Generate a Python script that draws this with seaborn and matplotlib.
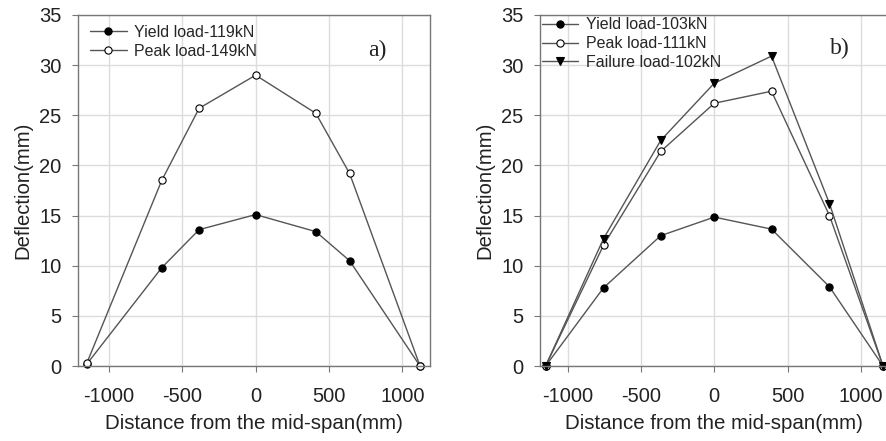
import matplotlib
matplotlib.use("Agg")
import matplotlib.pyplot as plt
import seaborn as sns
import pandas as pd

# Panel a)
xa = [-1150, -640, -385, 0, 410, 640, 1120]
yield_a = [0.2, 9.8, 13.6, 15.1, 13.4, 10.5, 0.0]
peak_a = [0.3, 18.5, 25.7, 29.0, 25.2, 19.2, 0.0]
labels_a = ["Yield load-119kN", "Peak load-149kN"]

# Panel b)
xb = [-1150, -755, -365, 0, 390, 785, 1150]
yield_b = [0.0, 7.8, 13.0, 14.85, 13.65, 7.9, 0.0]
peak_b = [0.0, 12.05, 21.4, 26.2, 27.4, 15.0, 0.0]
fail_b = [0.0, 12.7, 22.5, 28.2, 30.9, 16.2, 0.0]
labels_b = ["Yield load-103kN", "Peak load-111kN", "Failure load-102kN"]

xticks = [-1000, -500, 0, 500, 1000]
yticks = [0, 5, 10, 15, 20, 25, 30, 35]

sns.set_theme(style="whitegrid")
plt.rcParams['font.family'] = ['Liberation Sans', 'DejaVu Sans']

fig = plt.figure(figsize=(8.87, 4.41), dpi=100)
ax1 = fig.add_axes([0.0880, 0.170, 0.3968, 0.796])
ax2 = fig.add_axes([0.6088, 0.170, 0.3930, 0.796])

line_c = "#555555"

def draw(ax, x, y, label, marker, fc):
    df = pd.DataFrame({"x": x, "y": y})
    sns.lineplot(data=df, x="x", y="y", ax=ax, sort=False, color=line_c,
                 linewidth=1.0, marker=marker, markersize=5.2,
                 markerfacecolor=fc, markeredgecolor="black",
                 markeredgewidth=0.8, label=label, clip_on=False)

draw(ax1, xa, yield_a, labels_a[0], "o", "black")
draw(ax1, xa, peak_a, labels_a[1], "o", "white")
draw(ax2, xb, yield_b, labels_b[0], "o", "black")
draw(ax2, xb, peak_b, labels_b[1], "o", "white")
draw(ax2, xb, fail_b, labels_b[2], "v", "black")

settings = [
    (ax1, (-1210, 1188), "a)", (0.85, 0.90), (0.034, 0.972)),
    (ax2, (-1188, 1188), "b)", (0.86, 0.905), (0.005, 0.994)),
]
for ax, xl, tag, tagpos, legpos in settings:
    ax.set_xlim(*xl)
    ax.set_ylim(0, 35)
    ax.set_xticks(xticks)
    ax.set_yticks(yticks)
    ax.set_xticklabels([str(t) for t in xticks])
    ax.grid(True, color="#dcdcdc", linewidth=1.0)
    for s in ax.spines.values():
        s.set_color("#777777")
        s.set_linewidth(1.0)
    ax.tick_params(axis="both", which="major", labelsize=14.5, colors="#222222",
                   length=4, width=0.8, direction="out", color="#777777",
                   left=True, bottom=True)
    ax.tick_params(axis="x", pad=11)
    ax.tick_params(axis="y", pad=8)
    ax.set_xlabel("Distance from the mid-span(mm)", fontsize=14.8, color="#222222", labelpad=6)
    ax.set_ylabel("Deflection(mm)", fontsize=14.6, color="#222222", labelpad=5)
    ax.text(tagpos[0], tagpos[1], tag, transform=ax.transAxes, fontsize=17,
            family=["Liberation Serif"], color="#222222", ha="center", va="center")
    ax.legend(loc="upper left", bbox_to_anchor=legpos, frameon=False,
              fontsize=11.5, handlelength=2.3, borderaxespad=0.0,
              labelspacing=0.25, handletextpad=0.45, borderpad=0.0)

fig.savefig("out.png", dpi=100)
